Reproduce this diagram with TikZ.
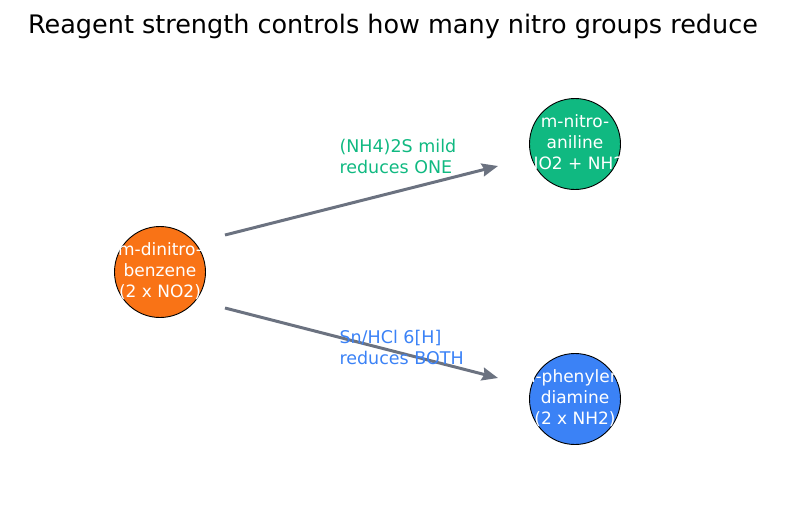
\documentclass[tikz,border=0pt]{standalone}
\usepackage{fontspec}
\setmainfont{DejaVu Sans}
\usetikzlibrary{arrows.meta}
\definecolor{orangemol}{HTML}{F97316}
\definecolor{greenmol}{HTML}{10B981}
\definecolor{bluemol}{HTML}{3B82F6}
\definecolor{arrowgray}{HTML}{6B7280}
% label wider than the circle spills over it
\newcommand{\mollabel}[1]{\makebox[0pt]{\begin{tabular}{@{}c@{}}#1\end{tabular}}}

\begin{document}
\begin{tikzpicture}[x=1pt, y=-1pt,
        mol/.style = {circle, draw = black, line width = 0.9pt, minimum size = 91pt, inner sep = 0pt,
                      text = white, font = \fontsize{17}{21}\selectfont},
        react/.style = {draw = arrowgray, line width = 3pt, -{Stealth[length = 16pt, width = 13pt, inset = 2pt]}},
        reagent/.style = {anchor = west, align = left, font = \fontsize{17.5}{21}\selectfont}]
    \useasboundingbox (0,0) rectangle (787,512);

    \node[font = \fontsize{25.5}{30}\selectfont] (title) at (393,26) {Reagent strength controls how many nitro groups reduce};

    \node[mol, fill = orangemol] (dinitro) at (160,272) {\mollabel{m-dinitro-\\benzene\\(2 x NO2)}};
    \node[mol, fill = greenmol] (nitroanil) at (575,144) {\mollabel{m-nitro-\\aniline\\(NO2 + NH2)}};
    \node[mol, fill = bluemol] (phenylene) at (575,399) {\mollabel{m-phenylene\\diamine\\(2 x NH2)}};

    % arrow ends
    \coordinate (mildstart) at (225,235);
    \coordinate (mildend) at (498,166);
    \coordinate (strongstart) at (225,308);
    \coordinate (strongend) at (498,378);

    \draw[react] (mildstart) -- (mildend);
    \draw[react] (strongstart) -- (strongend);

    \node[reagent, text = greenmol] (mild) at (336,156) {(NH4)2S mild\\reduces ONE};
    \node[reagent, text = bluemol] (strong) at (336,347) {Sn/HCl 6[H]\\reduces BOTH};
\end{tikzpicture}
\end{document}
